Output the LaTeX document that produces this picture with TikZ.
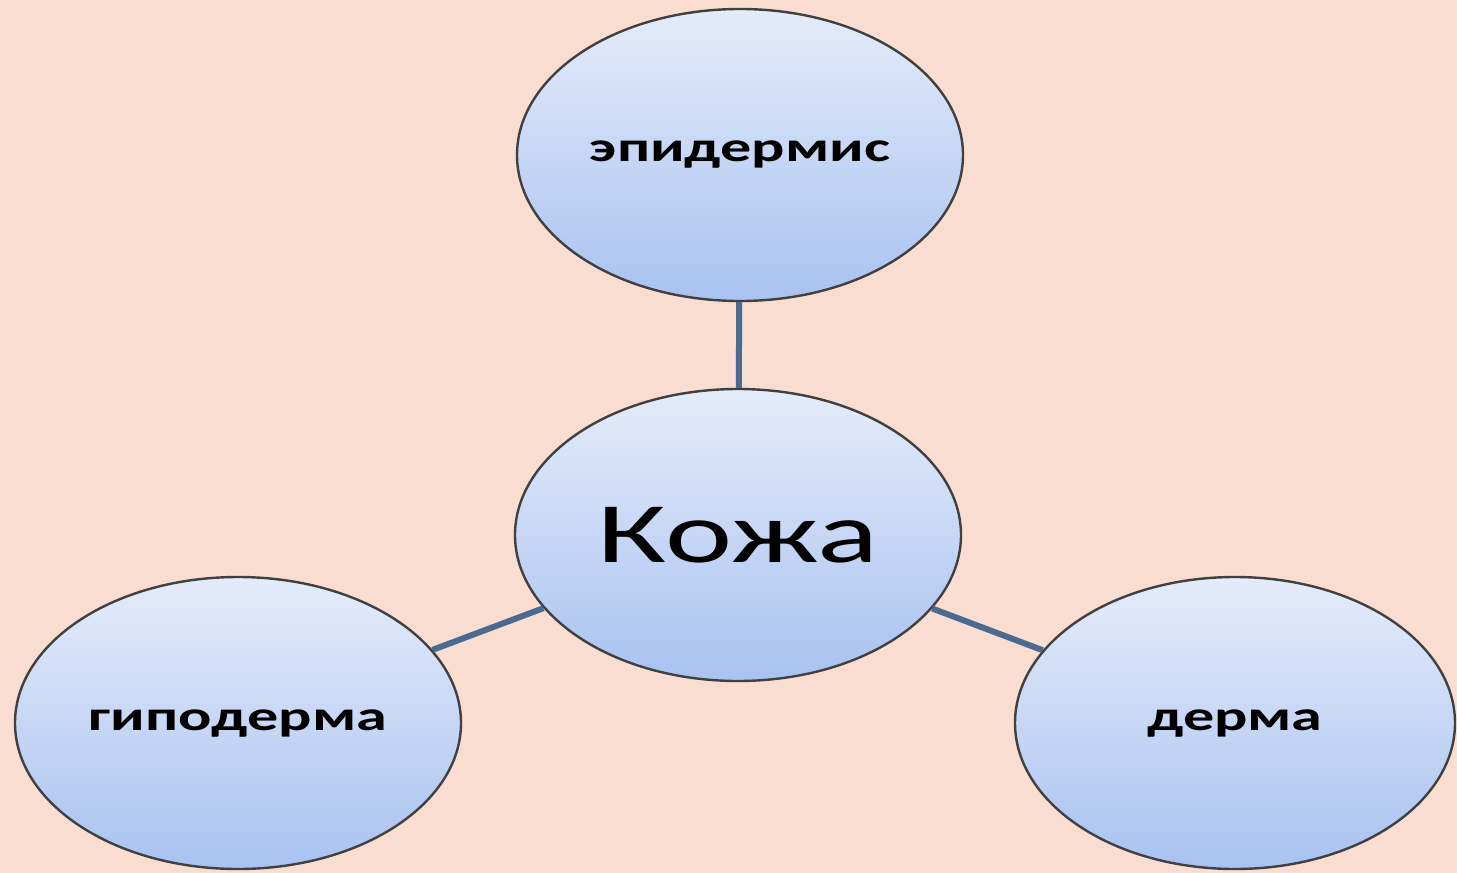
\documentclass[tikz,border=0pt]{standalone}
\usepackage{fontspec}
\setmainfont{Carlito}
\usetikzlibrary{shapes.geometric}
\definecolor{peach}{HTML}{F9DDD0}
\definecolor{bubtop}{HTML}{E4ECFA}
\definecolor{bubbot}{HTML}{A9C2F0}
\definecolor{linkcol}{HTML}{4A6A92}
\newcommand{\widetext}[2]{\scalebox{1.48}[1]{\fontsize{#1}{#1}\selectfont #2}}
\tikzset{
  bubble/.style={ellipse, draw=black!75, line width=1.2pt,
    top color=bubtop, bottom color=bubbot,
    minimum width=223pt, minimum height=146pt, inner sep=0pt},
  link/.style={draw=linkcol, line width=3pt}
}
\begin{document}
\begin{tikzpicture}[x=0.5pt,y=-0.5pt]
		\fill[peach] (0,0) rectangle (1457,873);
		\useasboundingbox (0,0) rectangle (1457,873);
		
		\node[bubble] (kozha) at (738,535) {\widetext{43}{Кожа}};
		\node[bubble] (epid) at (740,155) {\widetext{21}{\bfseries эпидермис}};
		\node[bubble] (gipo) at (238,723) {\widetext{21}{\bfseries гиподерма}};
		\node[bubble, minimum width=220pt] (derma) at (1235,723) {\widetext{21}{\bfseries дерма}};
		
		\draw[link] (kozha) -- (epid);
		\draw[link] (kozha) -- (gipo);
		\draw[link] (kozha) -- (derma);
	\end{tikzpicture}
\end{document}
